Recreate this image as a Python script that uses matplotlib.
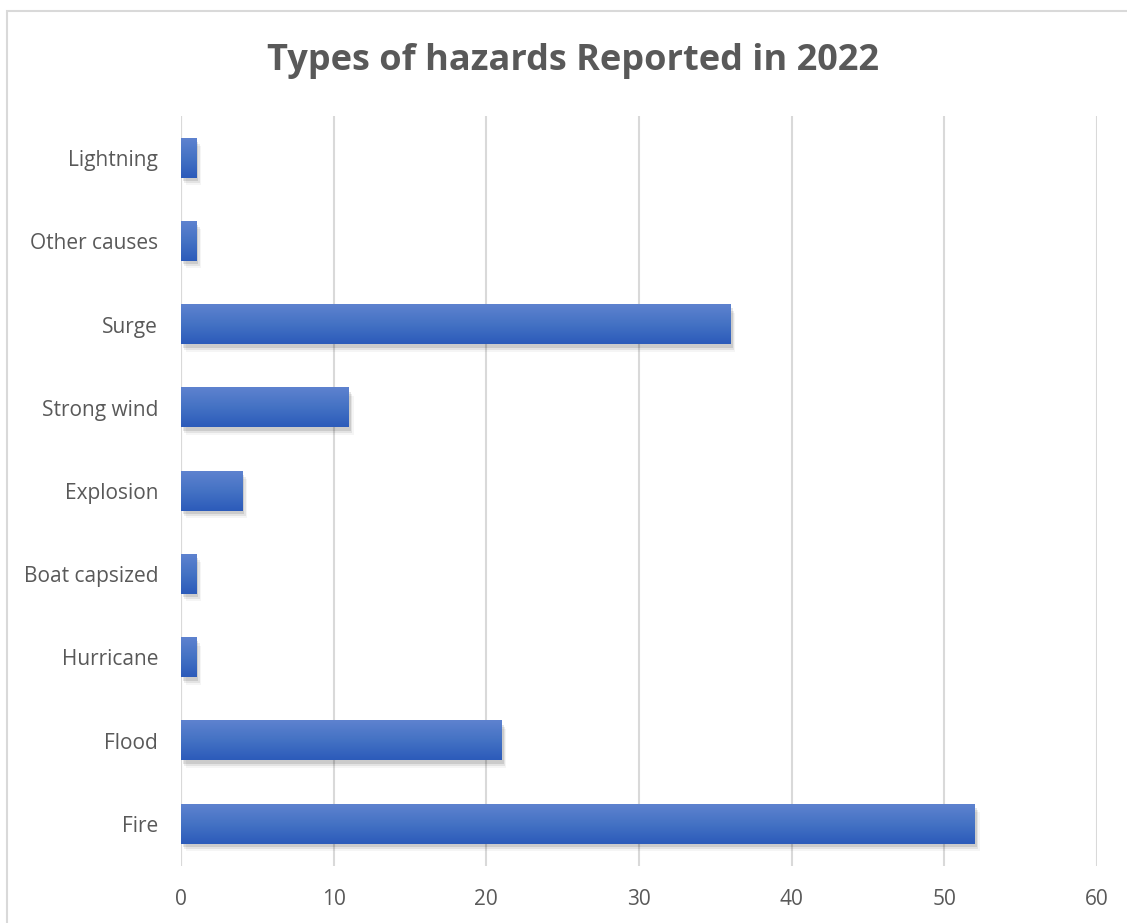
import numpy as np
import matplotlib
matplotlib.use("Agg")
import matplotlib.pyplot as plt
from matplotlib.patches import Rectangle
from matplotlib.colors import LinearSegmentedColormap
import matplotlib.transforms as mtransforms

plt.rcParams['font.family'] = ['Open Sans', 'DejaVu Sans']

categories = ["Fire", "Flood", "Hurricane", "Boat capsized", "Explosion",
              "Strong wind", "Surge", "Other causes", "Lightning"]
counts = [52, 21, 1, 1, 4, 11, 36, 1, 1]
x_ticks = [0, 10, 20, 30, 40, 50, 60]

title = "Types of hazards Reported in 2022"
text_color = "#595959"
grid_color = "#D9D9D9"

fig = plt.figure(figsize=(11.27, 9.23), dpi=100)
fig.patch.set_facecolor("white")

# chart frame
fig.patches.append(Rectangle((7 / 1127, -0.05), 1.2, 1 - 10.5 / 923 + 0.05,
                             transform=fig.transFigure, fill=False,
                             edgecolor="#D9D9D9", linewidth=1.5, zorder=0))

ax = fig.add_axes([181 / 1127, 1 - 865.6 / 923, (1097 - 181) / 1127, (865.6 - 116.4) / 923])
ax.set_xlim(0, 60)
ax.set_ylim(-0.5, len(categories) - 0.5)

bar_h = 0.47
grad = LinearSegmentedColormap.from_list("bar", ["#2C5BBA", "#4472C4", "#5E82CF"])
grad_img = np.linspace(0, 1, 64).reshape(-1, 1)

# soft drop shadow below each bar
for i, v in enumerate(counts):
    for dx, dy, a in [(1.5, -2.5, 0.10), (2.5, -4, 0.07), (3.5, -5.5, 0.04)]:
        off = mtransforms.offset_copy(ax.transData, fig=fig, x=dx, y=dy, units="points")
        ax.add_patch(Rectangle((0, i - bar_h / 2), v, bar_h, transform=off,
                               facecolor="black", alpha=a, edgecolor="none", zorder=2))
    ax.imshow(grad_img, cmap=grad, extent=[0, v, i - bar_h / 2, i + bar_h / 2],
              aspect="auto", origin="lower", zorder=3, interpolation="bilinear")

ax.set_xlim(0, 60)
ax.set_ylim(-0.5, len(categories) - 0.5)
ax.set_xticks(x_ticks)
ax.set_xticklabels([str(t) for t in x_ticks])
ax.set_yticks(range(len(categories)))
ax.set_yticklabels(categories)
ax.tick_params(axis="both", length=0, labelsize=15, labelcolor=text_color)
ax.tick_params(axis="x", pad=17)
ax.tick_params(axis="y", pad=16.5)
ax.xaxis.grid(True, color=grid_color, linewidth=1.5, zorder=1)
ax.set_axisbelow(True)
for s in ax.spines.values():
    s.set_visible(False)
ax.axvline(0, color=grid_color, linewidth=1.5, zorder=1)

fig.text(573 / 1127, 1 - 61 / 923, title, ha="center", va="center",
         fontsize=26, fontweight="bold", color=text_color)

fig.savefig("out.png", dpi=100, facecolor="white")
